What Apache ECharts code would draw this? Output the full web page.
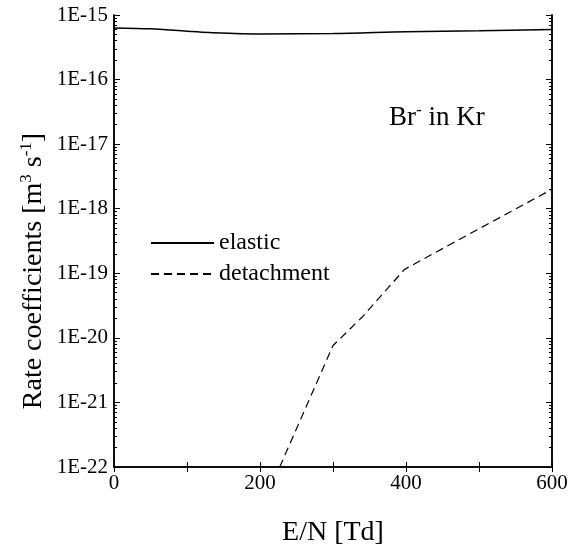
<!DOCTYPE html>
<html lang="en">
<head>
    <meta charset="UTF-8">
    <title>Br- in Kr rate coefficients</title>
    <style>
        html, body { margin: 0; padding: 0; background: #fff; }
        #chart { width: 576px; height: 552px; }
    </style>
</head>
<body>
    <div id="chart"></div>
    <script src="https://cdn.jsdelivr.net/npm/echarts@6/dist/echarts.min.js"></script>
    <script>
        // E/N in Td, rate coefficients in m^3 s^-1
        var elasticEN = [0, 50, 100, 130, 200, 300, 400, 500, 600];
        var elasticK = [6.3e-16, 6.1e-16, 5.6e-16, 5.35e-16, 5.1e-16, 5.15e-16, 5.5e-16, 5.7e-16, 5.95e-16];
        var detachEN = [227, 300, 340, 398, 463, 600];
        var detachK = [1.0e-22, 7.6e-21, 2.1e-20, 1.15e-19, 2.9e-19, 2.0e-18];

        var yMajor = [1e-22, 1e-21, 1e-20, 1e-19, 1e-18, 1e-17, 1e-16, 1e-15];
        var yMinor = [];
        for (var d = -22; d < -15; d++) {
            for (var m = 2; m <= 9; m++) yMinor.push(m * Math.pow(10, d));
        }
        var xLabels = [0, 200, 400, 600];

        var serif = 'Liberation Serif';

        function pairs(xs, ys) {
            return xs.map(function (x, i) { return [x, ys[i]]; });
        }

        // log axis; several are stacked on each side for major/minor ticks
        function yAxis(pos, values, len, labels) {
            return {
                type: 'log',
                position: pos,
                min: 1e-22,
                max: 1e-15,
                axisLine: { show: true, lineStyle: { color: '#000', width: 1.5 } },
                axisTick: { show: true, inside: true, length: len, customValues: values, lineStyle: { color: '#000', width: 1 } },
                axisLabel: labels ? {
                    customValues: yMajor,
                    margin: 6,
                    formatter: function (v) { return '{t|1E' + Math.round(Math.log10(v)) + '}'; },
                    rich: { t: { fontFamily: serif, fontSize: 21, color: '#000' } }
                } : { show: false },
                splitLine: { show: false },
                minorTick: { show: false }
            };
        }

        var myChart = echarts.init(document.getElementById('chart'));
        var option = {
            animation: false,
            textStyle: { fontFamily: serif, color: '#000' },
            grid: { left: 114, right: 24, top: 15, bottom: 73, containLabel: false },
            legend: {
                orient: 'vertical',
                left: 145,
                top: 226,
                itemWidth: 63,
                itemHeight: 14,
                itemGap: 7,
                itemStyle: { color: 'rgba(0,0,0,0)', borderWidth: 0 },
                formatter: function (n) { return '{t|' + n + '}'; },
                textStyle: { rich: { t: { fontFamily: serif, fontSize: 24, color: '#000' } } },
                data: ['elastic', 'detachment']
            },
            title: {
                text: '{a|Br}{s|-}{a| in Kr}',
                left: 384,
                top: 97,
                textStyle: {
                    fontWeight: 'normal',
                    rich: {
                        a: { fontFamily: serif, fontSize: 27, color: '#000' },
                        s: { fontFamily: serif, fontSize: 17, color: '#000', padding: [0, 0, 14, 0] }
                    }
                }
            },
            graphic: [{
                type: 'text',
                x: 34,
                y: 271,
                rotation: Math.PI / 2,
                style: {
                    text: '{a|Rate coefficients [m}{s|3}{a| s}{s|-1}{a|]}',
                    align: 'center',
                    verticalAlign: 'middle',
                    rich: {
                        a: { fontFamily: serif, fontSize: 28, fill: '#000' },
                        s: { fontFamily: serif, fontSize: 17, fill: '#000', padding: [0, 0, 14, 0] }
                    }
                }
            }],
            xAxis: [{
                type: 'value',
                min: 0,
                max: 600,
                interval: 100,
                name: 'E/N [Td]',
                nameLocation: 'middle',
                nameGap: 52,
                nameTextStyle: { fontFamily: serif, fontSize: 28, color: '#000' },
                axisLine: { lineStyle: { color: '#000', width: 1.5 } },
                axisTick: { inside: true, length: 5, lineStyle: { color: '#000' } },
                axisLabel: {
                    margin: 6,
                    formatter: function (v) { return xLabels.indexOf(v) >= 0 ? '{t|' + v + '}' : ''; },
                    rich: { t: { fontFamily: serif, fontSize: 21, color: '#000' } }
                },
                splitLine: { show: false }
            }, {
                type: 'value',
                position: 'top',
                min: 0,
                max: 600,
                interval: 100,
                axisLine: { show: true, lineStyle: { color: '#000', width: 1.5 } },
                axisTick: { inside: true, length: 5, lineStyle: { color: '#000' } },
                axisLabel: { show: false },
                splitLine: { show: false }
            }],
            yAxis: [
                yAxis('left', yMajor, 6, true),
                yAxis('left', yMinor, 3, false),
                yAxis('right', yMajor, 6, false),
                yAxis('right', yMinor, 3, false)
            ],
            series: [{
                name: 'elastic',
                type: 'line',
                smooth: 0.3,
                symbol: 'none',
                lineStyle: { color: '#000', width: 1.5, type: 'solid' },
                itemStyle: { color: '#000' },
                data: pairs(elasticEN, elasticK)
            }, {
                name: 'detachment',
                type: 'line',
                symbol: 'none',
                lineStyle: { color: '#000', width: 1.2, type: [8, 5] },
                itemStyle: { color: '#000' },
                data: pairs(detachEN, detachK)
            }]
        };
        myChart.setOption(option);
    </script>
</body>
</html>
